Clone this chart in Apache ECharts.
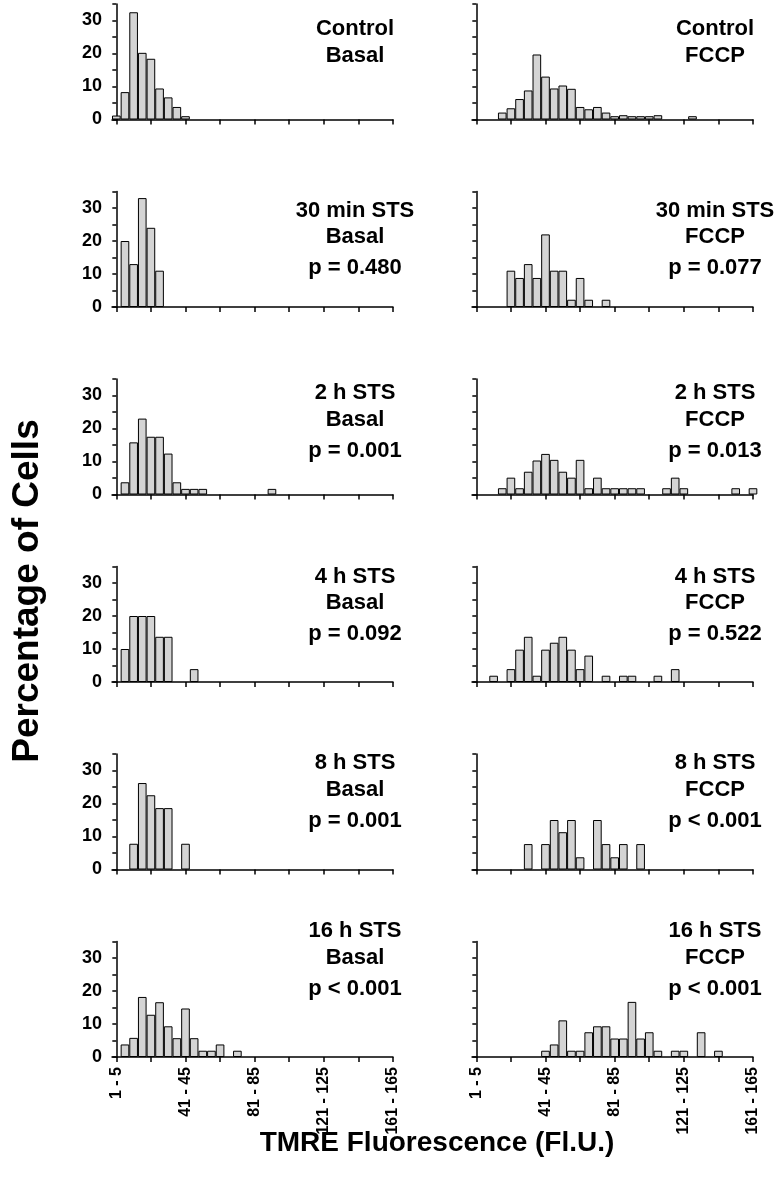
<!DOCTYPE html>
<html><head><meta charset="utf-8">
<script src="https://cdn.jsdelivr.net/npm/echarts@6/dist/echarts.min.js"></script>
<style>html,body{margin:0;padding:0;background:#fff}#c{width:780px;height:1199px}</style>
</head><body><div id="c"></div>
<script>
// ---- categories / tick labels ----
const binLabels = ['1 - 5','6 - 10','11 - 15','16 - 20','21 - 25','26 - 30','31 - 35','36 - 40',
  '41 - 45','46 - 50','51 - 55','56 - 60','61 - 65','66 - 70','71 - 75','76 - 80',
  '81 - 85','86 - 90','91 - 95','96 - 100','101 - 105','106 - 110','111 - 115','116 - 120',
  '121 - 125','126 - 130','131 - 135','136 - 140','141 - 145','146 - 150','151 - 155','156 - 160','161 - 165'];
const xTickBins = [0,4,8,12,16,20,24,28,32];
const xLabelBins = [0,8,16,24,32];
const yTickValues = [0,5,10,15,20,25,30,35];
const yLabelValues = [0,10,20,30];

// ---- series values (percentage of cells per bin) ----
const controlBasal = [1.2,8.3,32.5,20.2,18.4,9.4,6.7,3.8,1.0,0,0,0,0,0,0,0,0,0,0,0,0,0,0,0,0,0,0,0,0,0,0,0,0];
const controlFCCP  = [0,0,0,2.1,3.4,6.2,8.8,19.7,13.0,9.4,10.3,9.3,3.8,3.1,3.8,2.1,1.0,1.3,1.0,1.0,1.0,1.3,0,0,0,1.0,0,0,0,0,0,0,0];
const sts30Basal   = [0,20,13,33,24,11,0,0,0,0,0,0,0,0,0,0,0,0,0,0,0,0,0,0,0,0,0,0,0,0,0,0,0];
const sts30FCCP    = [0,0,0,0,11,8.8,13,8.8,22,11,11,2.2,8.8,2.2,0,2.2,0,0,0,0,0,0,0,0,0,0,0,0,0,0,0,0,0];
const sts2hBasal   = [0,3.7,15.8,23,17.5,17.5,12.4,3.7,1.7,1.7,1.7,0,0,0,0,0,0,0,1.7,0,0,0,0,0,0,0,0,0,0,0,0,0,0];
const sts2hFCCP    = [0,0,0,1.9,5.1,1.9,6.9,10.3,12.3,10.5,6.9,5.1,10.5,1.9,5.1,1.9,1.9,1.9,1.9,1.9,0,0,1.9,5.1,1.9,0,0,0,0,0,1.9,0,1.9];
const sts4hBasal   = [0,10,20,20,20,13.7,13.7,0,0,3.9,0,0,0,0,0,0,0,0,0,0,0,0,0,0,0,0,0,0,0,0,0,0,0];
const sts4hFCCP    = [0,0,1.9,0,3.9,9.8,13.7,1.9,9.8,11.9,13.7,9.8,3.9,8.0,0,1.9,0,1.9,1.9,0,0,1.9,0,3.9,0,0,0,0,0,0,0,0,0];
const sts8hBasal   = [0,0,7.8,26.2,22.5,18.6,18.6,0,7.8,0,0,0,0,0,0,0,0,0,0,0,0,0,0,0,0,0,0,0,0,0,0,0,0];
const sts8hFCCP    = [0,0,0,0,0,0,7.7,0,7.7,15,11.3,15,3.7,0,15,7.7,3.7,7.7,0,7.7,0,0,0,0,0,0,0,0,0,0,0,0,0];
const sts16hBasal  = [0,3.8,5.8,18.2,12.8,16.6,9.3,5.7,14.7,5.7,1.9,1.9,3.8,0,1.9,0,0,0,0,0,0,0,0,0,0,0,0,0,0,0,0,0,0];
const sts16hFCCP   = [0,0,0,0,0,0,0,0,1.9,3.8,11.1,1.9,1.9,7.5,9.3,9.3,5.6,5.6,16.7,5.6,7.5,1.9,0,1.9,1.9,0,7.5,0,1.9,0,0,0,0];

// ---- panel texts ----
const panelLines = [
  [['Control','Basal'], ['Control','FCCP']],
  [['30 min STS','Basal','p = 0.480'], ['30 min STS','FCCP','p = 0.077']],
  [['2 h STS','Basal','p = 0.001'], ['2 h STS','FCCP','p = 0.013']],
  [['4 h STS','Basal','p = 0.092'], ['4 h STS','FCCP','p = 0.522']],
  [['8 h STS','Basal','p = 0.001'], ['8 h STS','FCCP','p < 0.001']],
  [['16 h STS','Basal','p < 0.001'], ['16 h STS','FCCP','p < 0.001']]
];
const panelData = [
  [controlBasal, controlFCCP],
  [sts30Basal, sts30FCCP],
  [sts2hBasal, sts2hFCCP],
  [sts4hBasal, sts4hFCCP],
  [sts8hBasal, sts8hFCCP],
  [sts16hBasal, sts16hFCCP]
];
const yAxisTitle = 'Percentage of Cells';
const xAxisTitle = 'TMRE Fluorescence (Fl.U.)';

// ---- layout (not data) ----
const FONT = '"Liberation Sans", Arial, Helvetica, sans-serif';
const colLeft = [112, 472];
const gridW = 281;
const rowTop0 = 4, rowStep = 187.5, gridH = 115.5;
const labelFirstY = [29, 210.7, 393.3, 576.5, 763.3, 931];
const labelCenterX = [355, 715];
const lineGaps = [0, 26.5, 57.5];

const chart = echarts.init(document.getElementById('c'), null, {renderer: 'canvas'});
const grid = [], xAxis = [], yAxis = [], series = [], graphic = [];
let idx = 0;
for (let r = 0; r < 6; r++) {
  for (let c = 0; c < 2; c++) {
    grid.push({left: colLeft[c], top: rowTop0 + r * rowStep, width: gridW, height: gridH, containLabel: false});
    const bottom = r === 5;
    xAxis.push({
      gridIndex: idx, type: 'value', min: -0.5, max: 32,
      axisLine: {show: true, onZero: false, lineStyle: {color: '#000', width: 1.5}},
      axisTick: {show: true, customValues: xTickBins, length: 5, inside: false, lineStyle: {color: '#000', width: 1.5}},
      axisLabel: {show: bottom, customValues: xLabelBins, rotate: 90, margin: 10,
        formatter: v => binLabels[Math.round(v)] || '',
        color: '#000', fontFamily: FONT, fontWeight: 'bold', fontSize: 16},
      splitLine: {show: false}
    });
    yAxis.push({
      gridIndex: idx, type: 'value', min: 0, max: 35,
      axisLine: {show: true, lineStyle: {color: '#000', width: 1.5}},
      axisTick: {show: true, customValues: yTickValues, length: 4, inside: false, lineStyle: {color: '#000', width: 1.5}},
      axisLabel: {show: c === 0, customValues: yLabelValues, margin: 10,
        color: '#000', fontFamily: FONT, fontWeight: 'bold', fontSize: 18},
      splitLine: {show: false}
    });
    const vals = panelData[r][c];
    series.push({
      type: 'bar', xAxisIndex: idx, yAxisIndex: idx,
      data: vals.map((v, i) => [i, v]).filter(d => d[1] > 0),
      barWidth: '100%',
      itemStyle: {color: '#d4d4d4', borderColor: '#000', borderWidth: 1},
      silent: true, animation: false
    });
    const lines = panelLines[r][c];
    lines.forEach((t, k) => {
      graphic.push({type: 'text', x: labelCenterX[c], y: labelFirstY[r] + lineGaps[k],
        style: {text: t, fill: '#000', font: 'bold 22px ' + FONT, align: 'center', verticalAlign: 'middle'}});
    });
    idx++;
  }
}
graphic.push({type: 'text', x: 28, y: 591, rotation: Math.PI / 2,
  style: {text: yAxisTitle, fill: '#000', font: 'bold 37px ' + FONT, align: 'center', verticalAlign: 'middle'}});
graphic.push({type: 'text', x: 437, y: 1143,
  style: {text: xAxisTitle, fill: '#000', font: 'bold 28px ' + FONT, align: 'center', verticalAlign: 'middle'}});

chart.setOption({animation: false, backgroundColor: '#fff', grid, xAxis, yAxis, series, graphic});
</script></body></html>
